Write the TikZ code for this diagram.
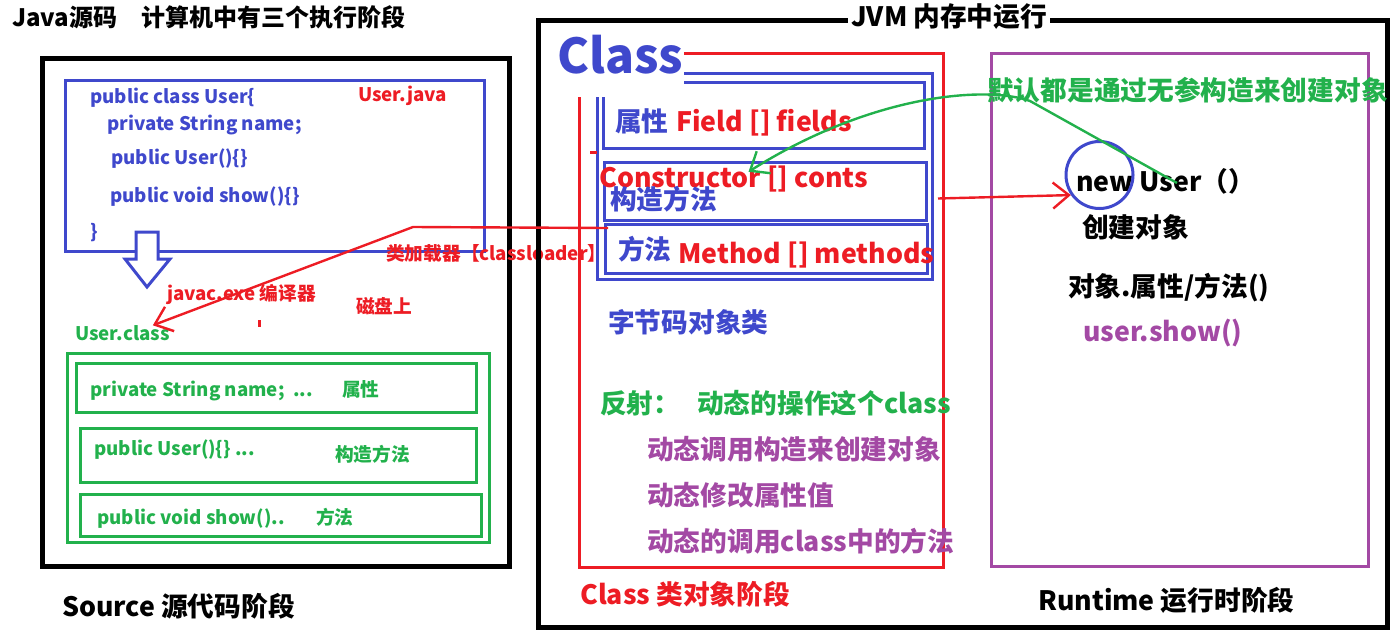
\documentclass[tikz,border=0pt]{standalone}
\usepackage{fontspec}
\setmainfont{Noto Sans CJK SC}
\usetikzlibrary{arrows.meta,positioning}
\definecolor{ink}{HTML}{3F48CC}
\definecolor{rust}{HTML}{ED1C24}
\definecolor{leaf}{HTML}{22B14C}
\definecolor{plum}{HTML}{A349A4}

\begin{document}
\begin{tikzpicture}[x=1pt,y=-1pt,
  big/.style={inner sep=0pt,anchor=west,text height=21pt,text depth=5pt,font=\bfseries\fontsize{26.7}{30}\selectfont},
  small/.style={inner sep=0pt,anchor=west,text height=15pt,text depth=4pt,font=\bfseries\fontsize{18.7}{22}\selectfont},
  frame/.style={line width=5pt},
  pen/.style={line width=3pt},
  barb/.style={-{Straight Barb[length=16pt,width=26pt]},line width=2.4pt}]
\useasboundingbox (0,0) rectangle (1395,635);

\node[big,font=\bfseries\fontsize{24}{28}\selectfont] (title) at (12,18) {Java源码\quad 计算机中有三个执行阶段};

\draw[frame] (42,58) rectangle (509,566);
\draw[pen,ink] (65,80) rectangle (484,251);
\node[small,ink] (code1) at (90,98) {public class User\{};
\node[small,ink] (code2) at (107,125) {private String name;};
\node[small,ink] (code3) at (111,159) {public User()\{\}};
\node[small,ink] (code4) at (110,197) {public void show()\{\}};
\node[small,ink] (code5) at (90,233) {\}};
\node[small,rust] (javafile) at (358,96) {User.java};
\draw[pen,ink,fill=white] (136,232) -- (158,232) -- (158,259) -- (170,259) -- (147,287) -- (125,259) -- (136,259) -- cycle;
\node[small,rust] (javac) at (167,295) {javac.exe 编译器};
\node[small,rust] (disk) at (356,308) {磁盘上};
\node[small,rust] (loader) at (386,255) {类加载器【classloader】};
\fill[rust] (258,320) rectangle (261,327);
\node[small,leaf] (userclass) at (75,335) {User.class};
\draw[pen,leaf] (67,353) rectangle (489,542);
\draw[pen,leaf] (76,363) rectangle (476,412);
\draw[pen,leaf] (80,428) rectangle (476,482);
\draw[pen,leaf] (80,494) rectangle (481,536);
\node[small,leaf] (gfield) at (90,391) {private String name;\ \ ...};
\node[small,leaf] (gfieldcn) at (342,391) {属性};
\node[small,leaf] (gctor) at (94,450) {public User()\{\} ...};
\node[small,leaf] (gctorcn) at (335,456) {构造方法};
\node[small,leaf] (gmeth) at (97,519) {public void show()..};
\node[small,leaf] (gmethcn) at (316,519) {方法};
\node[big] (source) at (62,608) {Source 源代码阶段};

\draw[frame] (538,20) rectangle (1387,627);
\node[big,fill=white,inner xsep=3pt] (jvm) at (848,18) {JVM 内存中运行};
\node[big,ink,text height=35pt,text depth=2pt,font=\bfseries\fontsize{48}{52}\selectfont] (classword) at (557,57) {Class};
\draw[pen,rust] (684,53) -- (943,53) -- (943,567) -- (579,567) -- (579,97);
\draw[pen,ink] (684,73) -- (932,73) -- (932,279) -- (597,279) -- (597,97);
\draw[pen,ink] (684,82) -- (924,82) -- (924,148) -- (603,148) -- (603,97);
\node[draw=ink,pen,inner sep=0pt,minimum width=322pt,minimum height=58pt,anchor=north west] (ctorbox) at (603,161) {};
\draw[pen,ink] (605,224) rectangle (927,273);
\fill[rust] (590,151) rectangle (597,154);
\node[big,ink] (fieldcn) at (615,123) {属性};
\node[big,rust] (fieldname) at (676,123) {Field [] fields};
\node[big,rust] (ctortext) at (599,179) {Constructor [] conts};
\node[big,ink] (ctorcn) at (610,201) {构造方法};
\node[big,ink] (methcn) at (618,251) {方法};
\node[big,rust] (methname) at (678,255) {Method [] methods};
\node[big,ink] (bytecode) at (608,324) {字节码对象类};
\node[big,leaf] (reflect) at (600,405) {反射：\hspace{17pt}动态的操作这个class};
\node[big,plum] (refl1) at (647,451) {动态调用构造来创建对象};
\node[big,plum] (refl2) at (647,497) {动态修改属性值};
\node[big,plum] (refl3) at (647,543) {动态的调用class中的方法};
\node[big,rust] (classstage) at (580,596) {Class 类对象阶段};

\draw[pen,plum] (991,53) rectangle (1368,566);
\node[big,leaf] (hint) at (987,92) {默认都是通过无参构造来创建对象};
\node[big] (newuser) at (1076,183) {new User（）};
\node[draw=ink,pen,circle,minimum size=67pt,inner sep=0pt] (ring) at (1099.5,175) {};
\node[big] (create) at (1082,229) {创建对象};
\node[big] (access) at (1068,288) {对象.属性/方法()};
\node[big,plum] (usershow) at (1083,333) {user.show()};
\node[big] (runtime) at (1038,602) {Runtime 运行时阶段};

\coordinate (loadstart) at (608,228);
\coordinate (greenstart) at (1177,183);
\draw[barb,rust] (loadstart) -- (413,227) -- ([xshift=-17pt]userclass.north east);
\draw[barb,rust] ([xshift=10pt,yshift=-7pt]ctorbox.east) -- (ring.215);
\draw[barb,leaf] (greenstart) -- (1030,101) .. controls (985,85) and (870,95) .. ([xshift=15pt,yshift=-6pt]ctortext.north);
\end{tikzpicture}
\end{document}
